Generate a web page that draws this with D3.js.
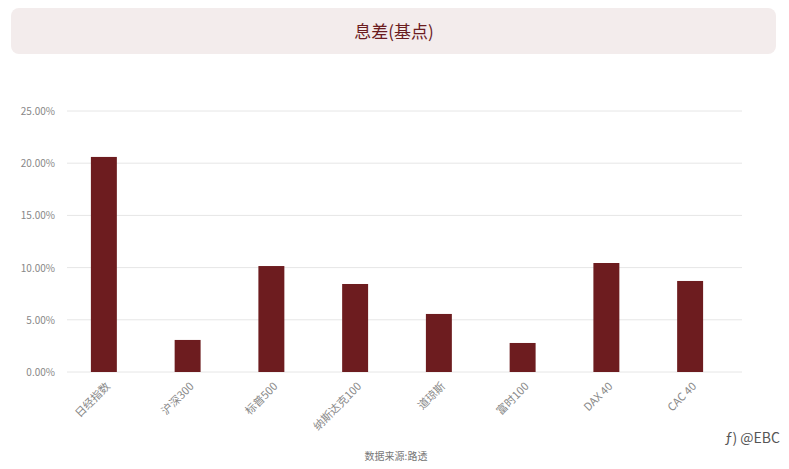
<!DOCTYPE html>
<html><head><meta charset="utf-8">
<script src="https://cdn.jsdelivr.net/npm/d3@7"></script>
<style>body{margin:0;background:#fff;font-family:"Noto Sans CJK SC","Noto Sans",sans-serif;}</style>
</head><body>
<svg width="789" height="469"></svg>
<script>
const categories = ["日经指数", "沪深300", "标普500", "纳斯达克100", "道琼斯", "富时100", "DAX 40", "CAC 40"];
const values = [20.6, 3.07, 10.15, 8.43, 5.56, 2.78, 10.44, 8.72];
const yTicks = [0, 5, 10, 15, 20, 25];

const svg = d3.select("svg");
const margin = {left: 67, right: 47, top: 111, bottom: 97};
const width = 789 - margin.left - margin.right;
const height = 469 - margin.top - margin.bottom;

// title box
svg.append("rect").attr("x", 11).attr("y", 8).attr("width", 765).attr("height", 46)
    .attr("rx", 8).attr("fill", "#f3ecec");
svg.append("text").attr("x", 394).attr("y", 38).attr("text-anchor", "middle")
    .attr("font-size", 17).attr("fill", "#6b1c1f").text("息差(基点)");

const g = svg.append("g").attr("transform", `translate(${margin.left},${margin.top})`);

const x = d3.scaleBand().domain(categories).range([-5, 665]).paddingInner(0.69).paddingOuter(0.345);
const y = d3.scaleLinear().domain([0, 25]).range([height, 0]);

g.selectAll(".grid").data(yTicks).join("line")
    .attr("x1", 0).attr("x2", width)
    .attr("y1", d => y(d)).attr("y2", d => y(d))
    .attr("stroke", "#e6e6e6");

g.selectAll(".ylab").data(yTicks).join("text")
    .attr("x", -12).attr("y", d => y(d) + 4).attr("text-anchor", "end")
    .attr("font-size", 10).attr("fill", "#888")
    .text(d => d.toFixed(2) + "%");

g.selectAll(".bar").data(values).join("rect")
    .attr("x", (d, i) => x(categories[i]))
    .attr("y", d => y(d))
    .attr("width", x.bandwidth())
    .attr("height", d => height - y(d))
    .attr("fill", "#6d1c1f");

g.selectAll(".xlab").data(categories).join("text")
    .attr("transform", d => `translate(${x(d) + x.bandwidth() / 2 + 7},${height + 15}) rotate(-45)`)
    .attr("text-anchor", "end").attr("font-size", 11).attr("fill", "#888")
    .text(d => d);

svg.append("text").attr("x", 396).attr("y", 460).attr("text-anchor", "middle")
    .attr("font-size", 10).attr("fill", "#777").text("数据来源:路透");
svg.append("text").attr("x", 780).attr("y", 443).attr("text-anchor", "end")
    .attr("font-size", 14).attr("fill", "#555").text("ƒ) @EBC");
</script>
</body></html>
